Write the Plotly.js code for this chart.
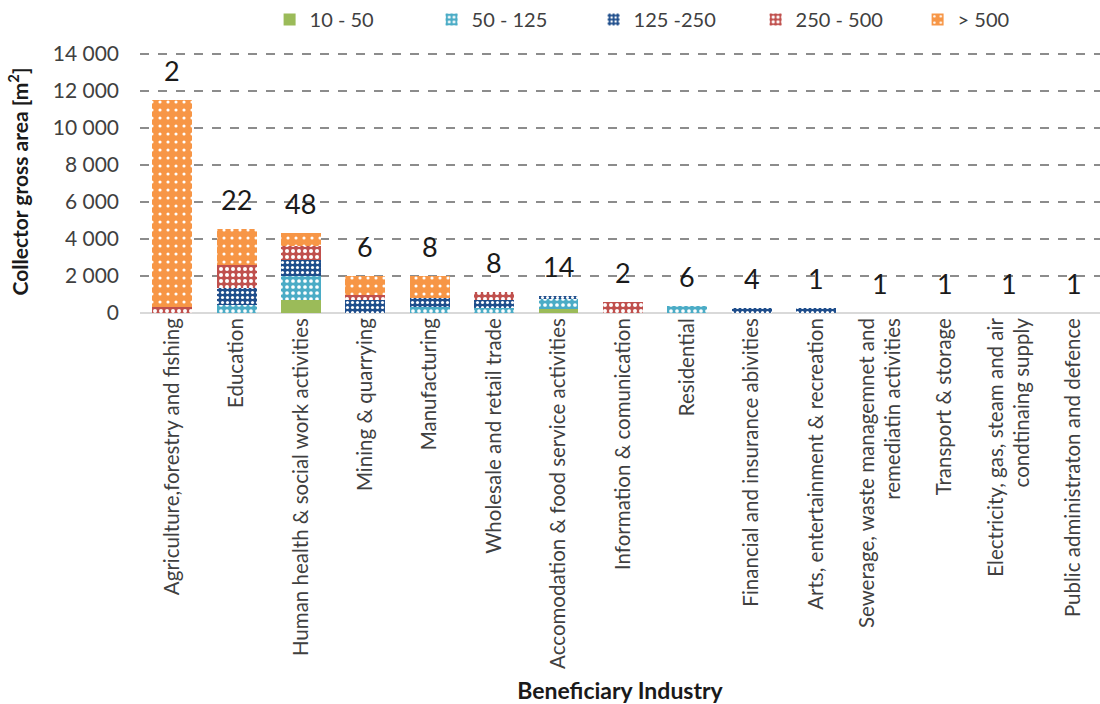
<!DOCTYPE html>
<html>
<head>
<meta charset="utf-8">
<script src="https://cdn.plot.ly/plotly-3.0.1.min.js"></script>
<style>
  html, body { margin: 0; padding: 0; background: #ffffff; }
  #chart { width: 1100px; height: 704px; }
</style>
</head>
<body>
<div id="chart"></div>
<script>
// Beneficiary industries (x categories)
const industries = [
  "Agriculture,forestry and fishing",
  "Education",
  "Human health & social work activities",
  "Mining & quarrying",
  "Manufacturing",
  "Wholesale and retail trade",
  "Accomodation & food service activities",
  "Information & comunication",
  "Residential",
  "Financial and insurance abivities",
  "Arts, entertainment & recreation",
  "Sewerage, waste managemnet and<br>remediatin activities",
  "Transport & storage",
  "Electricity, gas, steam and air<br>condtinaing supply",
  "Public administraton and defence"
];

// Collector gross area [m²] per installation size class
const size10to50   = [0,    0,    700,  0,    0,    0,    200, 0,   0,   0,   0,   0, 0, 0, 0];
const size50to125  = [0,    430,  1290, 0,    350,  250,  550, 0,   400, 0,   0,   0, 0, 0, 0];
const size125to250 = [0,    915,  860,  700,  450,  450,  150, 0,   0,   250, 250, 0, 0, 0, 0];
const size250to500 = [300,  1240, 750,  250,  0,    450,  0,   600, 0,   0,   0,   0, 0, 0, 0];
const sizeOver500  = [11200,1940, 700,  1050, 1200, 0,    0,   0,   0,   0,   0,   0, 0, 0, 0];

// Number of installations per industry
const installCounts = [2, 22, 48, 6, 8, 8, 14, 2, 6, 4, 1, 1, 1, 1, 1];

const seriesNames = ["10 - 50", "50 - 125", "125 -250", "250 - 500", "> 500"];

const idx = industries.map((_, i) => i);
const baseFont = "Lato, 'Open Sans', sans-serif";

function barTrace(name, values, bg, fg, shape, size, solidity) {
  const marker = { color: bg, line: { width: 0 } };
  if (shape) {
    marker.pattern = { shape: shape, bgcolor: bg, fgcolor: fg, size: size, solidity: solidity, fillmode: "replace" };
  }
  return {
    type: "bar", name: name, x: idx, y: values,
    marker: marker, hoverinfo: "name+y"
  };
}

const traces = [
  barTrace(seriesNames[0], size10to50,   "#9BBB59", null,      null, 0, 0),
  barTrace(seriesNames[1], size50to125,  "#4BACC6", "#ffffff", ".", 6, 0.3),
  barTrace(seriesNames[2], size125to250, "#1F4E8C", "#ffffff", ".", 5, 0.3),
  barTrace(seriesNames[3], size250to500, "#C0504D", "#ffffff", ".", 6, 0.35),
  barTrace(seriesNames[4], sizeOver500,  "#F79646", "#ffffff", ".", 8, 0.12)
];

// Totals per industry, used to place the installation counts above each stack
const totals = idx.map(i =>
  size10to50[i] + size50to125[i] + size125to250[i] + size250to500[i] + sizeOver500[i]);

const countLabels = idx.map(i => ({
  x: i, y: totals[i], xref: "x", yref: "y",
  text: String(installCounts[i]), showarrow: false,
  yanchor: "bottom", yshift: 11,
  font: { family: baseFont, size: 27, color: "#1a1a1a" }
}));

const layout = {
  width: 1100, height: 704,
  paper_bgcolor: "#ffffff", plot_bgcolor: "#ffffff",
  margin: { l: 140, r: 0, t: 49, b: 391 },
  barmode: "stack",
  bargap: 0.38,
  separators: ", ",
  font: { family: baseFont, color: "#404040" },
  showlegend: true,
  legend: {
    orientation: "h", x: 0.135, xanchor: "left", y: 1.19, yanchor: "top",
    font: { size: 20, color: "#404040" },
    entrywidth: 117, entrywidthmode: "pixels",
    itemwidth: 30, tracegroupgap: 0,
    traceorder: "normal"
  },
  xaxis: {
    type: "linear",
    range: [-0.5, 14.41],
    tickmode: "array", tickvals: idx, ticktext: industries,
    tickangle: -90,
    tickfont: { size: 20.5, color: "#404040" },
    showgrid: false, zeroline: false,
    showline: false, ticks: "",
    title: { text: "<b>Beneficiary Industry</b>", font: { size: 23, color: "#1a1a1a" }, standoff: 34 }
  },
  yaxis: {
    range: [0, 14200],
    tickvals: [0, 2000, 4000, 6000, 8000, 10000, 12000, 14000],
    tickmode: "array", tickformat: ",d",
    tickfont: { size: 21, color: "#404040" },
    ticklabelstandoff: 20,
    showgrid: true, gridcolor: "#8c8c8c", gridwidth: 1.6, griddash: "dash",
    zeroline: true, zerolinecolor: "#d9d9d9", zerolinewidth: 1.5,
    showline: false, ticks: "",
    title: { text: "<b>Collector gross area [m<sup>2</sup>]</b>", font: { size: 21, color: "#1a1a1a" }, standoff: 18 }
  },
  annotations: countLabels
};

Plotly.newPlot("chart", traces, layout, { displayModeBar: false, staticPlot: true });
</script>
</body>
</html>
